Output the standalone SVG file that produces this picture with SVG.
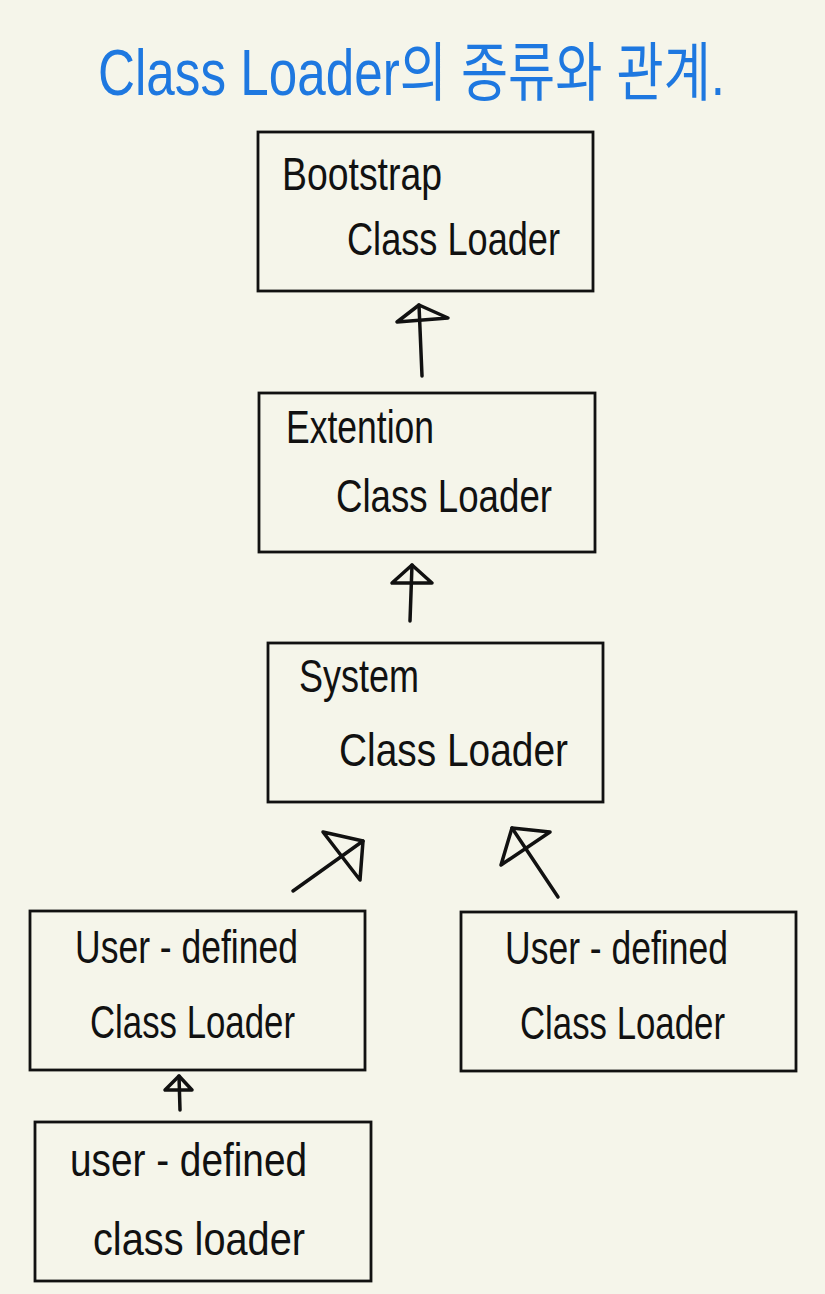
<svg xmlns="http://www.w3.org/2000/svg" width="825" height="1294" viewBox="0 0 825 1294">
  <style>
    .box { fill: none; stroke: #111; stroke-width: 2.8; }
    .t { font-family: "Liberation Sans", "Noto Sans CJK KR", sans-serif; font-size: 46px; fill: #111; }
    .title { font-family: "Liberation Sans", "Noto Sans CJK KR", sans-serif; font-size: 64px; fill: #1E78E0; }
    .c { fill: none; stroke: #111; stroke-width: 3.5; stroke-linecap: round; stroke-linejoin: round; }
  </style>
  <rect width="825" height="1294" fill="#F5F5EA"/>
  <text class="title" x="98" y="95" textLength="627" lengthAdjust="spacingAndGlyphs">Class Loader의 종류와 관계.</text>

  <g id="bootstrap">
    <rect class="box" x="258" y="132" width="335" height="159"/>
    <text class="t" x="282" y="190" textLength="160" lengthAdjust="spacingAndGlyphs">Bootstrap</text>
    <text class="t" x="347" y="255" textLength="213" lengthAdjust="spacingAndGlyphs">Class Loader</text>
  </g>
  <g id="extension">
    <rect class="box" x="259" y="393" width="336" height="159"/>
    <text class="t" x="286" y="443" textLength="148" lengthAdjust="spacingAndGlyphs">Extention</text>
    <text class="t" x="336" y="512" textLength="216" lengthAdjust="spacingAndGlyphs">Class Loader</text>
  </g>
  <g id="system">
    <rect class="box" x="268" y="643" width="335" height="159"/>
    <text class="t" x="299" y="692" textLength="120" lengthAdjust="spacingAndGlyphs">System</text>
    <text class="t" x="339" y="766" textLength="229" lengthAdjust="spacingAndGlyphs">Class Loader</text>
  </g>
  <g id="user-left">
    <rect class="box" x="30" y="911" width="335" height="159"/>
    <text class="t" x="75" y="963" textLength="223" lengthAdjust="spacingAndGlyphs">User - defined</text>
    <text class="t" x="90" y="1038" textLength="205" lengthAdjust="spacingAndGlyphs">Class Loader</text>
  </g>
  <g id="user-right">
    <rect class="box" x="461" y="912" width="335" height="159"/>
    <text class="t" x="505" y="964" textLength="223" lengthAdjust="spacingAndGlyphs">User - defined</text>
    <text class="t" x="520" y="1039" textLength="205" lengthAdjust="spacingAndGlyphs">Class Loader</text>
  </g>
  <g id="user-bottom">
    <rect class="box" x="35" y="1122" width="336" height="159"/>
    <text class="t" x="70" y="1176" textLength="237" lengthAdjust="spacingAndGlyphs">user - defined</text>
    <text class="t" x="93" y="1255" textLength="212" lengthAdjust="spacingAndGlyphs">class loader</text>
  </g>

  <g id="connectors">
    <line class="c" x1="422" y1="376" x2="419" y2="305"/>
    <polygon class="c" points="419,305 397,322 448,318"/>
    <line class="c" x1="410" y1="621" x2="412" y2="565"/>
    <polygon class="c" points="412,565 392,583 432,583"/>
    <line class="c" x1="293" y1="891" x2="363" y2="841"/>
    <polygon class="c" points="363,841 323,832 360,880"/>
    <line class="c" x1="558" y1="897" x2="512" y2="828"/>
    <polygon class="c" points="512,828 550,832 501,865"/>
    <line class="c" x1="180" y1="1110" x2="179" y2="1076"/>
    <polygon class="c" points="179,1076 165,1090 192,1090"/>
  </g>
</svg>
